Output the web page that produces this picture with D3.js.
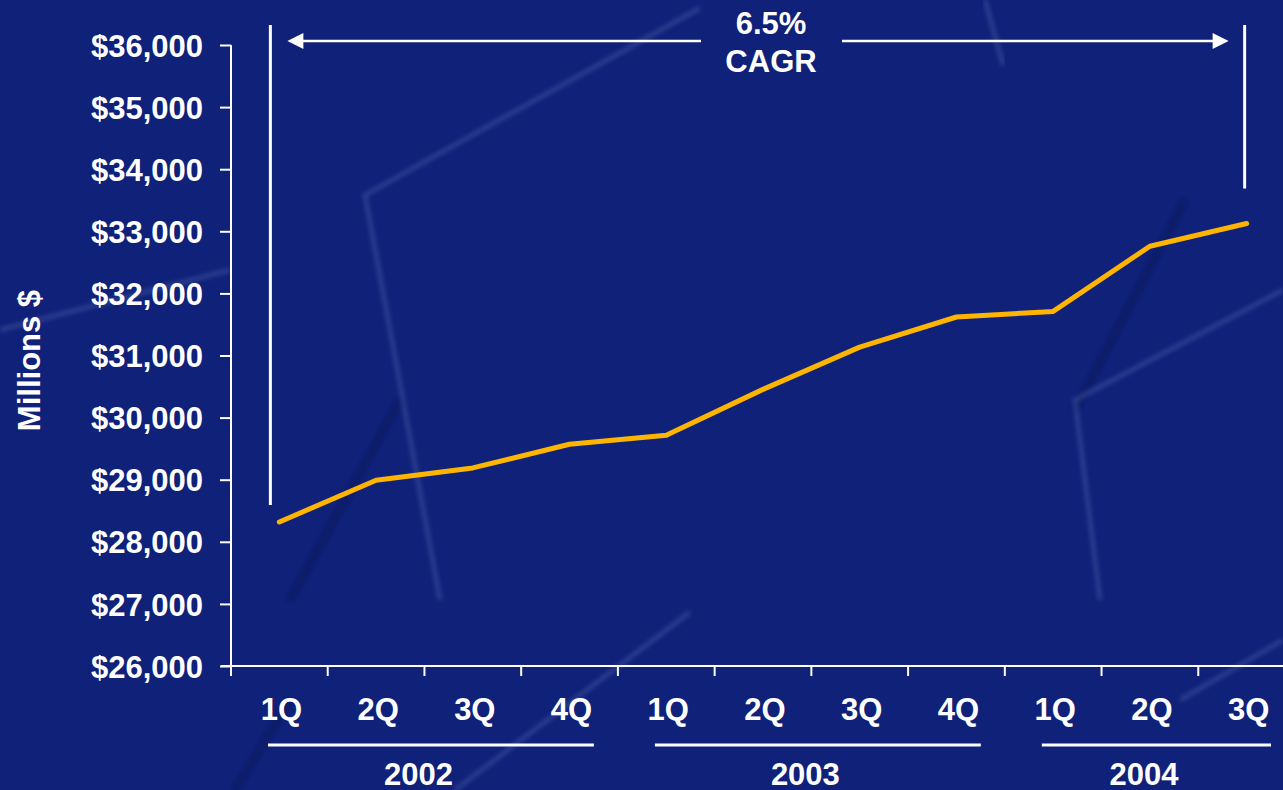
<!DOCTYPE html>
<html>
<head>
<meta charset="utf-8">
<script src="https://cdn.jsdelivr.net/npm/d3@7"></script>
<style>
	html, body { margin: 0; padding: 0; background: #0f2178; overflow: hidden; }
	svg text { font-family: 'Liberation Sans', Arial, sans-serif; font-weight: bold; fill: #fff; }
</style>
</head>
<body>
<div id="chart"></div>
<script>
// quarter labels, one per point
const quarters = ['1Q', '2Q', '3Q', '4Q', '1Q', '2Q', '3Q', '4Q', '1Q', '2Q', '3Q'];
const yearLabels = ['2002', '2003', '2004'];
const yearFirstIndex = [0, 4, 8];
const yearLastIndex = [3, 7, 10];
// Millions $
const revenue = [28320, 28990, 29190, 29570, 29715, 30455, 31135, 31620, 31710, 32760, 33125];
const yTicks = [26000, 27000, 28000, 29000, 30000, 31000, 32000, 33000, 34000, 35000, 36000];
const cagrText = ['6.5%', 'CAGR'];
const yTitle = 'Millions $';

const width = 1283;
const height = 790;
const margins = { top: 45, left: 231, right: -12, bottom: 124 };
const fontSize = '31px';

let svg = d3.select('#chart').append('svg')
	.attr('width', width)
	.attr('height', height);

svg.append('rect')
	.attr('width', width)
	.attr('height', height)
	.attr('fill', '#0f2178');

// faint background texture (slide template)
let deco = svg.append('g').attr('class', 'deco').attr('fill', 'none');
svg.append('defs').append('filter').attr('id', 'soft')
	.append('feGaussianBlur').attr('stdDeviation', 2.2);
deco.selectAll('path.shade')
	.data(['M0,68L345,68', 'M232,604L955,604', 'M1105,604L1283,604', 'M1010,68L1283,68'])
	.join('path')
	.attr('class', 'shade')
	.attr('d', d => d)
	.attr('stroke', '#0a1a5c')
	.attr('stroke-width', 7)
	.attr('opacity', 0.6)
	.attr('filter', 'url(#soft)');
deco.selectAll('path.dark')
	.data(['M290,600L400,400', 'M1075,410L1185,200', 'M235,790L290,700'])
	.join('path')
	.attr('class', 'dark')
	.attr('d', d => d)
	.attr('stroke', '#081550')
	.attr('stroke-width', 6)
	.attr('opacity', 0.45)
	.attr('filter', 'url(#soft)');
deco.selectAll('path.streak')
	.data(['M700,8L365,195L440,600', 'M1283,290L1075,400L1100,600', 'M690,612L455,790',
		'M985,0L1003,65', 'M0,330L230,270', 'M1283,640L1180,700'])
	.join('path')
	.attr('class', 'streak')
	.attr('d', d => d)
	.attr('stroke', '#5a6fb8')
	.attr('stroke-width', 5)
	.attr('opacity', 0.35)
	.attr('filter', 'url(#soft)');

let xScale = d3.scaleBand()
	.domain(d3.range(quarters.length))
	.range([margins.left, width - margins.right])
	.padding(0);
let yScale = d3.scaleLinear()
	.domain([yTicks[0], yTicks[yTicks.length - 1]])
	.range([height - margins.bottom, margins.top]);
let cx = i => xScale(i) + xScale.bandwidth() / 2;
let axisY = yScale(yTicks[0]);

// y axis
let yAxis = d3.axisLeft(yScale)
	.tickValues(yTicks)
	.tickSize(11)
	.tickPadding(17)
	.tickFormat(d => '$' + d3.format(',')(d));
let gY = svg.append('g')
	.attr('transform', `translate(${margins.left},0)`)
	.call(yAxis);
gY.select('.domain').attr('stroke', '#fff').attr('stroke-width', 2)
	.attr('d', `M0,${yScale.range()[1]}V${axisY + 10}`);
gY.selectAll('.tick line').attr('stroke', '#fff').attr('stroke-width', 2);
gY.selectAll('.tick text')
	.attr('font-size', fontSize)
	.attr('fill', '#fff')
	.attr('dy', '0.36em');

// x axis: line and ticks at band edges
let gX = svg.append('g').attr('class', 'x axis');
gX.append('line')
	.attr('x1', margins.left - 10).attr('x2', width)
	.attr('y1', axisY).attr('y2', axisY)
	.attr('stroke', '#fff').attr('stroke-width', 2);
gX.selectAll('line.tick')
	.data(d3.range(quarters.length))
	.join('line')
	.attr('class', 'tick')
	.attr('x1', d => xScale(d)).attr('x2', d => xScale(d))
	.attr('y1', axisY).attr('y2', axisY + 10)
	.attr('stroke', '#fff').attr('stroke-width', 2);
gX.selectAll('text.q')
	.data(quarters)
	.join('text')
	.attr('class', 'q')
	.attr('x', (d, i) => cx(i) + 2)
	.attr('y', axisY + 54)
	.attr('text-anchor', 'middle')
	.attr('font-size', fontSize)
	.text(d => d);

// year groups
gX.selectAll('line.yr')
	.data(yearLabels)
	.join('line')
	.attr('class', 'yr')
	.attr('x1', (d, k) => xScale(yearFirstIndex[k]) + 37)
	.attr('x2', (d, k) => xScale(yearLastIndex[k]) + xScale.bandwidth() - 24)
	.attr('y1', axisY + 79).attr('y2', axisY + 79)
	.attr('stroke', '#fff').attr('stroke-width', 3);
gX.selectAll('text.yr')
	.data(yearLabels)
	.join('text')
	.attr('class', 'yr')
	.attr('x', (d, k) => (cx(yearFirstIndex[k]) + cx(yearLastIndex[k])) / 2 - 6)
	.attr('y', axisY + 119)
	.attr('text-anchor', 'middle')
	.attr('font-size', fontSize)
	.text(d => d);

// axis title
svg.append('text')
	.attr('transform', `translate(40,${(yScale.range()[0] + yScale.range()[1]) / 2 + 5}) rotate(-90)`)
	.attr('text-anchor', 'middle')
	.attr('font-size', fontSize)
	.text(yTitle);

// CAGR annotation
let last = revenue.length - 1;
let ann = svg.append('g').attr('class', 'cagr-marks').attr('stroke', '#fff');
let arrowY = yScale(yTicks[yTicks.length - 1]) - 4;
let leftX = cx(0) - 9;
let rightX = cx(last) - 2;
ann.append('line')
	.attr('x1', leftX).attr('x2', leftX)
	.attr('y1', 25).attr('y2', yScale(revenue[0]) - 17)
	.attr('stroke-width', 3);
ann.append('line')
	.attr('x1', rightX).attr('x2', rightX)
	.attr('y1', 25).attr('y2', yScale(revenue[last]) - 35)
	.attr('stroke-width', 3);
let midX = 771;
ann.append('line')
	.attr('x1', leftX + 30).attr('x2', midX - 70)
	.attr('y1', arrowY).attr('y2', arrowY)
	.attr('stroke-width', 2.5);
ann.append('line')
	.attr('x1', midX + 71).attr('x2', rightX - 30)
	.attr('y1', arrowY).attr('y2', arrowY)
	.attr('stroke-width', 2.5);
ann.append('path')
	.attr('d', `M${leftX + 17},${arrowY}L${leftX + 33},${arrowY - 8}L${leftX + 33},${arrowY + 8}Z`)
	.attr('fill', '#fff').attr('stroke', 'none');
ann.append('path')
	.attr('d', `M${rightX - 16},${arrowY}L${rightX - 32},${arrowY - 8}L${rightX - 32},${arrowY + 8}Z`)
	.attr('fill', '#fff').attr('stroke', 'none');
svg.selectAll('text.cagr')
	.data(cagrText)
	.join('text')
	.attr('class', 'cagr')
	.attr('x', midX)
	.attr('y', (d, i) => 34 + i * 38)
	.attr('text-anchor', 'middle')
	.attr('font-size', fontSize)
	.text(d => d);

// revenue line
let line = d3.line()
	.x((d, i) => cx(i))
	.y(d => yScale(d));
svg.append('path')
	.datum(revenue)
	.attr('d', line)
	.attr('fill', 'none')
	.attr('stroke', '#ffb400')
	.attr('stroke-width', 5)
	.attr('stroke-linejoin', 'round')
	.attr('stroke-linecap', 'round');
</script>
</body>
</html>
